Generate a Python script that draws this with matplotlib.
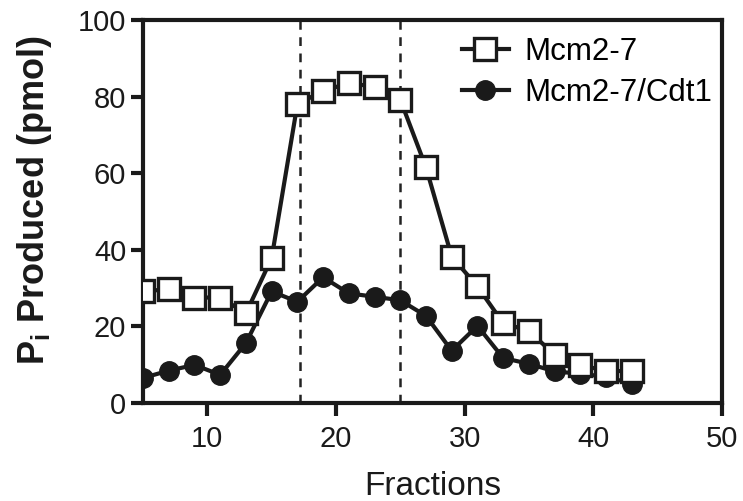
import numpy as np
import matplotlib
matplotlib.use('Agg')
import matplotlib.pyplot as plt

plt.rcParams['font.family'] = ['Liberation Sans', 'DejaVu Sans']
plt.rcParams['mathtext.fontset'] = 'custom'
plt.rcParams['mathtext.rm'] = 'Liberation Sans'
plt.rcParams['mathtext.bf'] = 'Liberation Sans:bold'

fractions = [5, 7, 9, 11, 13, 15, 17, 19, 21, 23, 25, 27, 29, 31, 33, 35, 37, 39, 41, 43]
mcm = [29.1, 29.7, 27.5, 27.5, 23.4, 37.8, 78, 81.5, 83.5, 82.6, 79.2, 61.5,
       38.2, 30.4, 20.8, 18.8, 12.5, 9.8, 8.4, 8.2]
mcm_cdt1 = [6.5, 8.4, 9.9, 7.3, 15.6, 29.1, 26.4, 32.8, 28.6, 27.7, 26.8, 22.7,
            13.6, 20.1, 11.7, 10.2, 8.2, 7.6, 6.8, 5.0]
dashed_x = [17.2, 25.0]

fig = plt.figure(figsize=(7.43, 5.01), dpi=100)
ax = fig.add_axes([0.1925, 0.196, 0.779, 0.764])

for xv in dashed_x:
    ax.axvline(xv, color='#222222', linestyle=(0, (3.5, 3)), linewidth=1.8, zorder=1)

ax.plot(fractions, mcm, color='#1a1a1a', linewidth=3, marker='s', markersize=16,
        markerfacecolor='white', markeredgewidth=2.4, markeredgecolor='#1a1a1a',
        label='Mcm2-7', zorder=3)
ax.plot(fractions, mcm_cdt1, color='#1a1a1a', linewidth=3, marker='o', markersize=14,
        markerfacecolor='#1a1a1a', markeredgecolor='#1a1a1a',
        label='Mcm2-7/Cdt1', zorder=2)

ax.set_xlim(5, 50)
ax.set_ylim(0, 100)
ax.set_xticks([10, 20, 30, 40, 50])
ax.set_yticks([0, 20, 40, 60, 80, 100])
for s in ax.spines.values():
    s.set_linewidth(3)
    s.set_color('#1a1a1a')
ax.tick_params(direction='out', length=9, width=3, labelsize=21, colors='#1a1a1a', pad=3)
ax.tick_params(axis='x', pad=7)

ax.set_xlabel('Fractions', fontsize=24, color='#1a1a1a', labelpad=13)
ax.set_ylabel(r'$\mathbf{P_i}$ Produced (pmol)', fontsize=26, fontweight='bold',
              color='#1a1a1a', labelpad=17)
ax.yaxis.label.set_y(0.53)

ax.legend(loc='upper right', frameon=False, fontsize=22.5, handlelength=1.5,
          borderaxespad=0.2, labelspacing=0.35, handletextpad=0.5,
          bbox_to_anchor=(1.016, 1.005))

fig.savefig('out.png', dpi=100)
